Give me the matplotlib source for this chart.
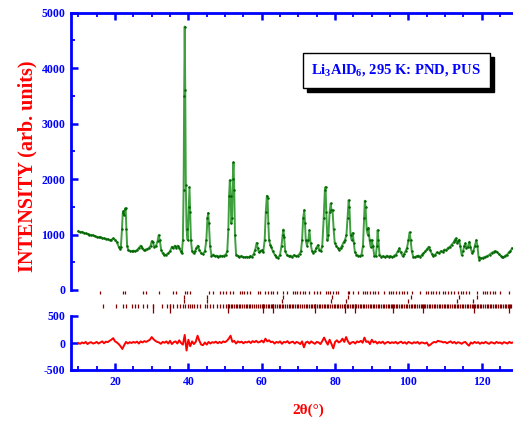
import numpy as np
import matplotlib
matplotlib.use('Agg')
import matplotlib.pyplot as plt
from matplotlib.ticker import MultipleLocator
from matplotlib.patches import Rectangle

plt.rcParams['mathtext.fontset'] = 'custom'
plt.rcParams['mathtext.rm'] = 'Liberation Serif:bold'
plt.rcParams['mathtext.bf'] = 'Liberation Serif:bold'
plt.rcParams['axes.unicode_minus'] = False

tth_obs = [10.0, 10.5, 11.0, 11.5, 12.0, 12.5, 13.0, 13.5, 14.0, 14.5, 15.0, 15.5, 16.0, 16.5, 17.0,
           17.5, 18.0, 18.5, 19.0, 19.5, 20.0, 20.5, 21.0, 21.3, 21.6, 21.9, 22.1, 22.3, 22.5, 22.7,
           22.9, 23.1, 23.3, 23.6, 24.0, 24.5, 25.0, 25.5, 26.0, 26.5, 27.0, 27.4, 27.8, 28.3, 28.8,
           29.3, 29.7, 30.0, 30.3, 30.7, 31.2, 31.6, 31.9, 32.2, 32.6, 33.0, 33.4, 34.0, 34.5, 35.0,
           35.5, 35.9, 36.3, 36.7, 37.1, 37.5, 37.9, 38.2, 38.5, 38.7, 38.85, 39.0, 39.15, 39.3, 39.5,
           39.8, 40.1, 40.3, 40.5, 40.7, 41.0, 41.4, 41.8, 42.2, 42.6, 43.0, 43.5, 44.0, 44.5, 44.9,
           45.2, 45.4, 45.6, 45.9, 46.3, 46.8, 47.2, 47.7, 48.2, 48.7, 49.2, 49.7, 50.2, 50.6, 50.9,
           51.1, 51.3, 51.5, 51.7, 51.9, 52.1, 52.3, 52.5, 52.7, 53.0, 53.4, 53.9, 54.4, 54.9, 55.4,
           55.9, 56.4, 56.9, 57.4, 57.8, 58.2, 58.6, 58.9, 59.2, 59.6, 60.0, 60.4, 60.8, 61.1, 61.4,
           61.6, 61.8, 62.0, 62.3, 62.6, 63.0, 63.5, 64.0, 64.5, 65.0, 65.4, 65.7, 65.9, 66.1, 66.4,
           66.8, 67.3, 67.8, 68.3, 68.8, 69.3, 69.8, 70.3, 70.7, 71.0, 71.3, 71.6, 71.8, 72.0, 72.3,
           72.7, 73.0, 73.3, 73.7, 74.1, 74.5, 74.9, 75.3, 75.7, 76.1, 76.5, 76.9, 77.2, 77.4, 77.6,
           77.9, 78.2, 78.5, 78.8, 79.0, 79.3, 79.6, 79.9, 80.3, 80.7, 81.1, 81.5, 81.9, 82.3, 82.7,
           83.1, 83.4, 83.7, 83.9, 84.2, 84.5, 84.8, 85.1, 85.4, 85.8, 86.3, 86.8, 87.2, 87.6, 87.9,
           88.1, 88.3, 88.6, 88.9, 89.1, 89.4, 89.7, 90.0, 90.3, 90.7, 91.1, 91.4, 91.6, 91.8, 92.1,
           92.6, 93.1, 93.6, 94.1, 94.6, 95.1, 95.6, 96.1, 96.6, 97.1, 97.5, 97.9, 98.4, 98.8, 99.2,
           99.6, 100.0, 100.3, 100.6, 100.9, 101.3, 101.7, 102.2, 102.7, 103.2, 103.7, 104.1, 104.6, 105.1, 105.5,
           105.9, 106.4, 106.8, 107.3, 107.8, 108.3, 108.8, 109.3, 109.8, 110.3, 110.8, 111.3, 111.8, 112.3, 112.6,
           112.9, 113.2, 113.5, 113.8, 114.1, 114.5, 114.9, 115.2, 115.5, 115.8, 116.2, 116.6, 116.9, 117.3, 117.7,
           118.1, 118.5, 118.8, 119.1, 119.3, 119.7, 120.2, 120.9, 121.5, 122.1, 122.7, 123.2, 123.6, 124.1, 124.6,
           125.1, 125.5, 125.9, 126.4, 126.9, 127.4, 127.8, 128.2]
int_obs = [1060, 1045, 1050, 1030, 1020, 1010, 1000, 990, 985, 970, 960, 950, 955, 940, 930,
           925, 915, 900, 905, 930, 910, 860, 780, 740, 780, 1100, 1380, 1420, 1350, 1460,
           1480, 1100, 800, 720, 710, 700, 710, 700, 720, 760, 800, 760, 720, 730, 740,
           760, 800, 880, 860, 780, 800, 880, 990, 900, 720, 660, 630, 640, 660, 700,
           780, 760, 800, 760, 800, 760, 700, 660, 900, 1800, 3500, 4750, 3600, 1900, 1100,
           900, 1500, 1850, 1400, 900, 700, 660, 700, 760, 800, 720, 660, 650, 700, 900,
           1300, 1390, 1200, 800, 620, 640, 610, 620, 600, 620, 610, 620, 640, 700, 1100,
           1700, 1980, 1700, 1200, 1300, 2000, 2300, 1800, 1000, 640, 620, 600, 610, 600, 590,
           600, 590, 610, 600, 650, 720, 850, 760, 680, 700, 720, 680, 900, 1400, 1700,
           1650, 1200, 900, 820, 780, 700, 640, 600, 580, 640, 800, 1000, 1090, 950, 700,
           640, 610, 620, 600, 630, 610, 620, 650, 700, 900, 1300, 1440, 1200, 900, 800,
           900, 1080, 850, 700, 670, 700, 760, 810, 720, 700, 800, 1300, 1800, 1860, 1400,
           900, 1000, 1400, 1560, 1450, 1440, 1100, 850, 800, 760, 720, 750, 800, 860, 900,
           1000, 1300, 1620, 1500, 1000, 900, 1030, 850, 680, 640, 620, 610, 640, 800, 1300,
           1610, 1500, 1100, 1000, 1120, 900, 780, 900, 800, 610, 620, 800, 1080, 900, 640,
           600, 610, 590, 620, 600, 610, 590, 620, 640, 700, 750, 680, 610, 650, 700,
           760, 900, 1040, 900, 700, 600, 590, 610, 620, 600, 640, 660, 700, 740, 780,
           720, 650, 610, 640, 680, 660, 700, 690, 730, 720, 760, 780, 820, 860, 900,
           930, 850, 880, 910, 800, 630, 700, 800, 840, 760, 780, 870, 780, 670, 700,
           800, 900, 800, 600, 540, 570, 580, 600, 610, 640, 670, 690, 700, 690, 650,
           620, 600, 590, 620, 640, 680, 700, 750]

# difference curve, one value every 0.5 deg from 10.0 to 128.5
diff_vals = [0, -15, 10, -5, 20, -20, 5, 15, -10, 0,
             20, -10, 10, 30, -5, 25, 15, 40, 60, 90,
             30, 10, -20, -60, -110, -40, 20, -10, 15, 0,
             20, 5, 25, -10, 30, 10, 35, 20, 40, 60,
             110, 70, 40, 20, 10, -15, 20, 5, 30, -10,
             40, -20, 15, 30, -10, 50, 0, -30, 150, -140,
             60, -60, 30, -20, 20, 135, 40, -30, -40, 10,
             -30, 20, -10, 15, 5, 25, -5, 20, 0, 30,
             15, 40, 80, 135, 20, 40, -10, 30, 10, 25,
             -5, 20, 10, 30, 0, 35, 15, 40, 10, 20,
             45, 10, 80, 30, 50, 15, 25, -10, 20, 5,
             30, -15, 20, 10, 35, -5, 15, 25, -10, 20,
             5, -20, 30, -80, 10, 25, -10, 30, 5, -15,
             20, 10, -20, 35, 100, 30, -30, 60, -15, -100,
             20, 50, 10, 30, 80, 20, 110, 30, -20, 10,
             20, -10, 30, 15, 40, 5, 100, 20, 30, -20,
             60, 10, 30, -10, 20, 0, 25, -15, 10, 20,
             -5, 15, 0, 20, -10, 10, 25, -5, 15, -15,
             20, 5, -10, 15, 0, 20, -15, 10, 5, -10,
             10, -50, -30, 0, 20, 10, 40, 30, 25, 10,
             20, -5, 15, 30, 0, 20, -10, 15, 5, -15,
             10, 20, -20, -50, 10, -10, 20, 0, 15, -15,
             10, -5, 20, 0, -15, 15, 5, -10, 20, 0,
             10, -15, 15, 5, -10, 20, 0, 10]
tth_diff = np.arange(len(diff_vals)) * 0.5 + 10.0

# Bragg reflection positions
bragg_row1 = [15.9, 22.3, 22.7, 27.6, 28.5, 32.1, 35.7, 36.5, 39.1, 39.6, 40.5, 45.5, 46.6, 48.6,
              49.4, 50.2, 51.4, 52.3, 54.1, 54.6, 55.2, 55.9, 56.8, 58.9, 59.4, 60.9, 61.6, 62.5,
              63.2, 64.1, 65.9, 66.8, 68.6, 69.1, 69.7, 70.5, 71.2, 71.8, 73.0, 74.3, 75.2, 75.9,
              77.5, 78.0, 78.6, 79.5, 80.2, 80.7, 83.4, 83.9, 84.8, 86.2, 87.6, 88.2, 88.8, 89.4,
              90.3, 91.0, 91.8, 93.2, 94.7, 95.3, 95.9, 96.6, 97.5, 98.2, 98.8, 99.6, 100.9, 103.2,
              104.8, 105.4, 106.1, 106.8, 107.5, 108.4, 109.4, 110.0, 110.9, 111.6, 112.3, 113.6,
              114.3, 115.0, 115.7, 116.4, 118.6, 120.3, 120.9, 121.5, 122.3, 123.0, 123.6, 125.0, 127.3]
bragg_b = [38.9, 45.2, 65.9, 79.1, 83.4, 100.6, 113.9, 118.6]
bragg_c = [38.7, 45.1, 65.6, 78.8, 83.0, 100.0, 113.2, 117.7]
bragg_row2 = [16.8, 20.2, 22.3, 23.0, 24.6, 25.5, 26.4, 27.6, 28.7, 30.3, 32.7, 34.1, 35.0, 35.9,
              36.8, 37.7, 38.6, 39.2, 39.8, 40.4, 41.0, 41.6, 42.3, 43.2, 44.6, 45.2, 45.9, 46.8,
              47.7, 48.6, 49.4, 50.2, 50.7, 51.2, 51.6, 52.0, 52.4, 52.9, 53.3, 53.8, 54.2, 54.7,
              55.1, 55.6, 56.0, 56.5, 56.9, 57.4, 57.8, 58.3, 58.9, 59.4, 60.0, 60.3, 60.7, 61.1,
              61.6, 62.0, 62.4, 62.9, 63.2, 63.7, 64.1, 64.6, 65.0, 65.5, 65.9, 66.4, 66.8, 67.3,
              67.7, 68.2, 68.6, 69.1, 69.5, 70.0, 70.4, 70.9, 71.5, 72.0, 72.4, 72.9, 73.3, 73.8,
              74.2, 74.6, 75.1, 75.5, 76.0, 76.4, 76.9, 77.3, 77.8, 78.2, 78.7, 79.1, 79.6, 80.0,
              80.5, 80.9, 81.4, 81.8, 82.3, 82.7, 83.2, 83.6, 84.1, 84.5, 85.0, 85.3, 85.8, 86.2,
              86.7, 87.1, 87.6, 88.0, 88.5, 88.9, 89.4, 89.8, 90.3, 90.7, 91.2, 91.6, 92.1, 92.5,
              93.0, 93.4, 93.9, 94.3, 94.8, 95.2, 95.6, 96.1, 96.5, 97.0, 97.4, 97.9, 98.3, 98.8,
              99.2, 99.7, 100.1, 100.6, 101.0, 101.5, 101.9, 102.4, 102.8, 103.3, 103.7, 104.2,
              104.6, 105.1, 105.5, 106.0, 106.4, 106.9, 107.3, 107.8, 108.2, 108.7, 109.1, 109.6,
              110.0, 110.5, 110.9, 111.4, 111.8, 112.3, 112.7, 113.2, 113.6, 114.1, 114.5, 115.0,
              115.4, 115.9, 116.3, 116.8, 117.2, 117.7, 118.1, 118.6, 119.0, 119.5, 119.9, 120.4,
              120.8, 121.3, 121.7, 122.2, 122.6, 123.1, 123.5, 124.0, 124.4, 124.9, 125.3, 125.8,
              126.2, 126.7, 127.1, 127.6, 128.0]
bragg_d = [30.3, 35.0, 50.7, 60.3, 63.2, 74.6, 82.7, 85.3, 95.9, 103.9, 117.9, 127.3]

BLUE = '#0000ff'
RED = '#ff0000'
GREEN = '#008000'
MAROON = '#800000'
FONT = 'Liberation Serif'

W, H = 513, 421
fig = plt.figure(figsize=(W / 100, H / 100), dpi=100)


def fy(px):
    return 1 - px / H


x_left = 71 / W
ax = fig.add_axes([x_left, fy(290), 1 - x_left, fy(12.7) - fy(290)])
axd = fig.add_axes([x_left, fy(370), 1 - x_left, fy(316) - fy(370)])
axb = fig.add_axes([x_left, fy(314), 1 - x_left, fy(289) - fy(314)])

# main pattern: calc line + observed dots
ax.plot(tth_obs, int_obs, color=GREEN, lw=1.4, alpha=0.75, zorder=2)
ax.plot(tth_obs, int_obs, 'o', color='#006400', ms=1.8, mew=0, zorder=3)
ax.set_xlim(8, 128.5)
ax.set_ylim(0, 5000)
ax.set_yticks(range(0, 5001, 1000))
ax.yaxis.set_minor_locator(MultipleLocator(500))
ax.xaxis.set_major_locator(MultipleLocator(20))
ax.xaxis.set_minor_locator(MultipleLocator(5))
ax.spines['bottom'].set_visible(False)
ax.spines['right'].set_visible(False)
ax.tick_params(axis='x', which='both', bottom=False, top=True, labelbottom=False)
ax.tick_params(axis='y', which='both', right=False)

# difference
axd.plot(tth_diff, diff_vals, color=RED, lw=1.4)
axd.set_xlim(8, 128.5)
axd.set_ylim(-500, 500)
axd.set_yticks([-500, 0, 500])
axd.xaxis.set_major_locator(MultipleLocator(20))
axd.xaxis.set_minor_locator(MultipleLocator(5))
axd.spines['top'].set_visible(False)
axd.spines['right'].set_visible(False)
axd.tick_params(axis='x', which='both', top=False)
axd.tick_params(axis='y', which='both', right=False)

for a in (ax, axd):
    for s in a.spines.values():
        s.set_color(BLUE)
        s.set_linewidth(2)
    a.tick_params(which='major', direction='in', length=5, width=1.8, color=BLUE,
                  labelcolor=BLUE, labelsize=8.5, pad=4)
    a.tick_params(which='minor', direction='in', length=3, width=1.3, color=BLUE)
    for lab in a.get_xticklabels() + a.get_yticklabels():
        lab.set_fontfamily(FONT)
        lab.set_fontweight('bold')

# Bragg markers (y in pixel rows)
axb.set_xlim(8, 128.5)
axb.set_ylim(314, 289)
axb.axis('off')
axb.vlines(bragg_row1, 290.7, 294.5, color=MAROON, lw=0.9)
axb.vlines(bragg_b, 295.5, 299, color=MAROON, lw=0.9)
axb.vlines(bragg_c, 299.5, 303, color=MAROON, lw=0.9)
axb.vlines(bragg_row2, 304.3, 308, color=MAROON, lw=0.9)
axb.vlines(bragg_d, 304.3, 312.7, color=MAROON, lw=0.9)

# labels
fig.text(27 / W, fy(166), 'INTENSITY (arb. units)', rotation=90, ha='center', va='center',
         color=RED, fontsize=14.5, fontweight='bold', family=FONT)
fig.text(308 / W, fy(410), '2\u03b8(\u00b0)', ha='center', va='center',
         color=RED, fontsize=11, fontweight='bold', family=FONT)

# legend box with shadow
bx0, bx1, by0, by1 = 302.7, 490, 52.7, 88.3
fig.patches.append(Rectangle((bx0 / W + 4 / W, fy(by1) - 4 / H), (bx1 - bx0) / W, (by1 - by0) / H,
                             transform=fig.transFigure, facecolor='black', edgecolor='black', zorder=5))
fig.patches.append(Rectangle((bx0 / W, fy(by1)), (bx1 - bx0) / W, (by1 - by0) / H,
                             transform=fig.transFigure, facecolor='white', edgecolor='black',
                             lw=1.0, zorder=6))
fig.text((bx0 + bx1) / 2 / W, fy(71), r'Li$_\mathbf{3}$AlD$_\mathbf{6}$, 295 K: PND, PUS',
         ha='center', va='center', color=BLUE, fontsize=10.5, fontweight='bold', family=FONT,
         zorder=7)

fig.savefig('out.png', dpi=100)
